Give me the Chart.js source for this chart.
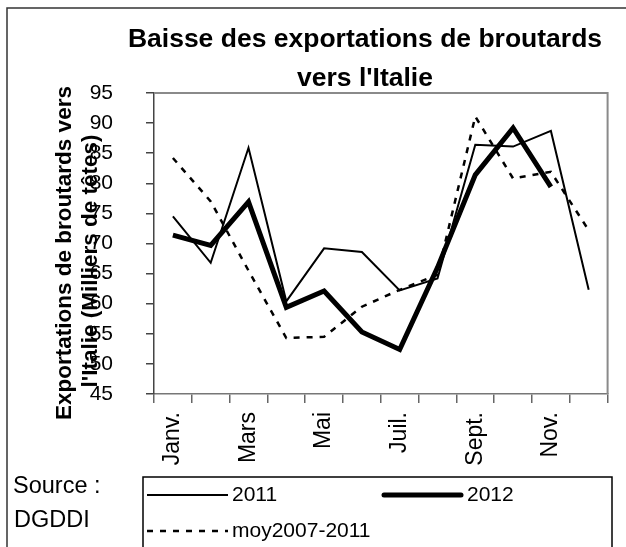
<!DOCTYPE html>
<html>
<head>
<meta charset="utf-8">
<script src="https://cdn.jsdelivr.net/npm/chart.js@4.4.1/dist/chart.umd.min.js"></script>
<style>
html,body{margin:0;padding:0;background:#fff;}
canvas{display:block;}
</style>
</head>
<body>
<canvas id="c" width="626" height="547"></canvas>
<script>
const months = ['Janv.','Févr.','Mars','Avr.','Mai','Juin','Juil.','Août','Sept.','Oct.','Nov.','Déc.'];
const shownLabels = ['Janv.','Mars','Mai','Juil.','Sept.','Nov.'];
const values2011 = [74.5, 66.8, 85.9, 60.4, 69.2, 68.6, 62.2, 64.2, 86.4, 86.1, 88.7, 62.3];
const values2012 = [71.4, 69.7, 76.9, 59.4, 62.1, 55.3, 52.4, 66.0, 81.4, 89.2, 79.4, null];
const valuesMoy = [84.2, 77.0, 65.5, 54.3, 54.5, 59.5, 62.3, 64.8, 91.1, 80.8, 81.9, 72.2];
const yMin = 45, yMax = 95, yStep = 5;
const seriesNames = ['2011', '2012', 'moy2007-2011'];
const titleLines = ['Baisse des exportations de broutards', "vers l'Italie"];
const yTitleLines = ['Exportations de broutards vers', "l'Italie (Milliers de têtes)"];
const sourceLines = ['Source :', 'DGDDI'];

const FONT = "'Liberation Sans', Arial, Helvetica, sans-serif";

const decor = {
  id: 'decor',
  beforeDraw(chart) {
    const ctx = chart.ctx;
    ctx.save();
    ctx.fillStyle = '#fff';
    ctx.fillRect(0, 0, chart.width, chart.height);
    ctx.restore();
  },
  afterDraw(chart) {
    const ctx = chart.ctx;
    const a = chart.chartArea;
    ctx.save();
    // plot box top/right
    ctx.strokeStyle = '#8a8a8a';
    ctx.lineWidth = 2;
    ctx.beginPath();
    ctx.moveTo(a.left, a.top);
    ctx.lineTo(a.right, a.top);
    ctx.lineTo(a.right, a.bottom);
    ctx.stroke();
    // outer frame
    ctx.strokeStyle = '#333';
    ctx.lineWidth = 1.5;
    ctx.beginPath();
    ctx.moveTo(7, chart.height + 2);
    ctx.lineTo(7, 8);
    ctx.lineTo(chart.width + 2, 8);
    ctx.stroke();
    // title
    ctx.fillStyle = '#000';
    ctx.textAlign = 'center';
    ctx.textBaseline = 'alphabetic';
    ctx.font = 'bold 26.5px ' + FONT;
    ctx.fillText(titleLines[0], 365, 47);
    ctx.fillText(titleLines[1], 365, 86);
    // y title
    ctx.textBaseline = 'middle';
    ctx.font = 'bold 22.5px ' + FONT;
    const yx = [65, 91], yc = [253, 261];
    yTitleLines.forEach((t, i) => {
      ctx.save();
      ctx.translate(yx[i], yc[i]);
      ctx.rotate(-Math.PI / 2);
      ctx.fillText(t, 0, 0);
      ctx.restore();
    });
    // source
    ctx.textAlign = 'left';
    ctx.textBaseline = 'alphabetic';
    ctx.font = '23.5px ' + FONT;
    ctx.fillText(sourceLines[0], 13, 493);
    ctx.fillText(sourceLines[1], 14, 527);
    // legend box
    ctx.strokeStyle = '#000';
    ctx.lineWidth = 1.5;
    ctx.strokeRect(143, 477, 469, 100);
    const ds = chart.data.datasets;
    const items = [
      {x: 147, y: 495, ds: ds[0]},
      {x: 382, y: 495, ds: ds[1]},
      {x: 147, y: 531, ds: ds[2]}
    ];
    items.forEach(it => {
      ctx.save();
      ctx.strokeStyle = it.ds.borderColor;
      ctx.lineWidth = it.ds.borderWidth;
      const thick = it.ds.borderWidth > 3;
      ctx.lineCap = thick ? 'round' : 'butt';
      ctx.setLineDash(it.ds.borderDash || []);
      ctx.beginPath();
      ctx.moveTo(it.x + (thick ? 2 : 0), it.y);
      ctx.lineTo(it.x + 81 - (thick ? 2 : 0), it.y);
      ctx.stroke();
      ctx.restore();
      ctx.font = '21px ' + FONT;
      ctx.fillStyle = '#000';
      ctx.textBaseline = 'middle';
      ctx.fillText(it.ds.label, it.x + 85, it.y);
    });
    ctx.restore();
  }
};

new Chart(document.getElementById('c'), {
  type: 'line',
  data: {
    labels: months,
    datasets: [
      {label: seriesNames[0], data: values2011, borderColor: '#000', borderWidth: 2, pointRadius: 0, tension: 0, fill: false},
      {label: seriesNames[1], data: values2012, borderColor: '#000', borderWidth: 5, pointRadius: 0, tension: 0, fill: false, borderJoinStyle: 'miter'},
      {label: seriesNames[2], data: valuesMoy, borderColor: '#000', borderWidth: 2.5, borderDash: [6, 7], pointRadius: 0, tension: 0, fill: false}
    ]
  },
  options: {
    responsive: false,
    animation: false,
    devicePixelRatio: 1,
    layout: {padding: {top: 93, right: 17, left: 0, bottom: 0}},
    plugins: {legend: {display: false}, title: {display: false}, tooltip: {enabled: false}},
    scales: {
      x: {
        type: 'category',
        offset: true,
        grid: {offset: true, drawOnChartArea: false, drawTicks: true, tickLength: 9, color: '#666', lineWidth: 1.5},
        border: {color: '#777', width: 1.5},
        ticks: {
          autoSkip: false, maxRotation: 90, minRotation: 90, padding: 9,
          color: '#000', font: {family: FONT, size: 23},
          callback: function(v, i) { const l = months[i]; return shownLabels.includes(l) ? l : ''; }
        },
        afterFit(s) { s.height = 153; }
      },
      y: {
        min: yMin, max: yMax,
        grid: {drawOnChartArea: false, drawTicks: true, tickLength: 8, color: '#444', lineWidth: 1.5},
        border: {color: '#444', width: 1.5},
        ticks: {stepSize: yStep, padding: 33, color: '#000', font: {family: FONT, size: 21}},
        afterFit(s) { s.width = 154; }
      }
    }
  },
  plugins: [decor]
});
</script>
</body>
</html>
